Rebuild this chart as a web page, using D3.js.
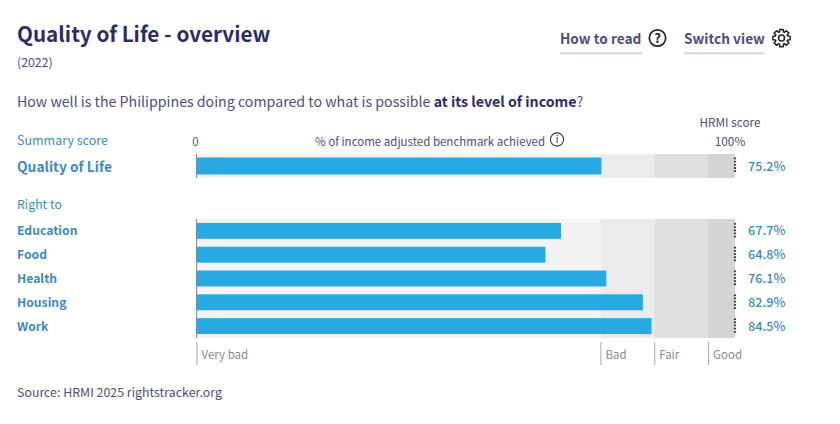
<!DOCTYPE html>
<html>
<head>
<meta charset="utf-8">
<script src="https://cdn.jsdelivr.net/npm/d3@7"></script>
<style>
	html, body { margin: 0; padding: 0; background: #fff; }
	svg { display: block; }
	text { font-family: "Noto Sans CJK SC", "Noto Sans", sans-serif; }
	.zone-axis .domain { display: none; }
	.zone-axis line { stroke: #b5b5b5; stroke-width: 1.2; }
	.zone-axis text { fill: #8a8a8a; font-size: 11.5px; text-anchor: start; }
</style>
</head>
<body>
<div id="chart"></div>
<script>
var rights = ['Education', 'Food', 'Health', 'Housing', 'Work'];
var rightScores = [67.7, 64.8, 76.1, 82.9, 84.5];
var summaryLabel = 'Quality of Life';
var summaryScore = 75.2;
var zoneNames = ['Very bad', 'Bad', 'Fair', 'Good'];
var zoneStarts = [0, 75, 85, 95];
var zoneEnds = [75, 85, 95, 100];
var zoneColors = ['#f3f3f3', '#ebebeb', '#dfdfdf', '#d4d4d4'];

var navy = '#2f2b64', slate = '#504e76', blue = '#3c8ac2', barBlue = '#29a9e1';

var svg = d3.select('#chart').append('svg')
	.attr('width', 840)
	.attr('height', 424);

var x = d3.scaleLinear().domain([0, 100]).range([196.5, 735]);
var y = d3.scaleBand().domain(rights).range([219, 338]).paddingInner(0.33).paddingOuter(0.165);
var ySummary = d3.scaleBand().domain([summaryLabel]).range([154, 178]).padding(0.17);

function addText(s, px, py, size, color, weight, anchor) {
	return svg.append('text')
		.attr('x', px)
		.attr('y', py)
		.attr('font-size', size)
		.attr('font-weight', weight || 400)
		.attr('text-anchor', anchor || 'start')
		.attr('fill', color)
		.text(s);
}

// Circle icon with a glyph in it
function addRoundIcon(cx, cy, r, glyph, size, color, weight) {
	svg.append('circle')
		.attr('cx', cx).attr('cy', cy).attr('r', r)
		.attr('fill', 'none').attr('stroke', color).attr('stroke-width', r > 7 ? 1.7 : 1.1);
	addText(glyph, cx, cy + size * 0.36, size, color, weight, 'middle');
}

// Headings
addText('Quality of Life - overview', 17, 42, 20.7, navy, 600);
addText('(2022)', 17, 67, 12.3, slate);
var question = addText('How well is the Philippines doing compared to what is possible ', 17, 107, 14.2, slate);
question.append('tspan').attr('font-weight', 700).attr('fill', navy).text('at its level of income');
question.append('tspan').text('?');

// Top right links
addText('How to read', 560, 44, 13.7, slate, 600);
svg.append('rect').attr('x', 560).attr('y', 52).attr('width', 82).attr('height', 2.5).attr('fill', '#dcdcea');
addRoundIcon(657.5, 38, 8.2, '?', 13, '#222', 600);
addText('Switch view', 684, 44, 13.7, slate, 600);
svg.append('rect').attr('x', 684).attr('y', 52).attr('width', 81).attr('height', 2.5).attr('fill', '#dcdcea');

// Gear icon
var gearAngles = d3.range(0, 8).map(function(i) { return i * Math.PI / 4; });
var gearPoints = [];
gearAngles.forEach(function(a) {
	[[-0.3, 6.4], [-0.2, 8.8], [0.2, 8.8], [0.3, 6.4]].forEach(function(p) {
		gearPoints.push([a + p[0], p[1]]);
	});
});
var gear = svg.append('g').attr('transform', 'translate(781.5,38)');
gear.append('path')
	.attr('d', d3.lineRadial().curve(d3.curveLinearClosed)(gearPoints))
	.attr('fill', 'none').attr('stroke', '#222').attr('stroke-width', 1.5).attr('stroke-linejoin', 'round');
gear.append('circle').attr('r', 3).attr('fill', 'none').attr('stroke', '#222').attr('stroke-width', 1.5);

// Header row
addText('Summary score', 17, 145, 12.5, blue);
addText('0', 195.5, 146, 11.5, slate, 400, 'middle');
addText('% of income adjusted benchmark achieved', 315, 146, 11.5, slate);
addRoundIcon(557, 139.5, 6.6, 'i', 10, '#333', 400);
addText('HRMI score', 730, 127, 11.8, slate, 400, 'middle');
addText('100%', 730, 146, 11.8, slate, 400, 'middle');
addText('Right to', 17, 209, 12.3, blue);

// Zone backgrounds, one set behind the summary row and one behind the rights
[[154, 178], [219, 338]].forEach(function(extent) {
	svg.append('g').selectAll('rect')
		.data(zoneStarts)
		.enter().append('rect')
		.attr('x', function(d) { return x(d); })
		.attr('y', extent[0])
		.attr('width', function(d, i) { return x(zoneEnds[i]) - x(d); })
		.attr('height', extent[1] - extent[0])
		.attr('fill', function(d, i) { return zoneColors[i]; });

	// Zero line
	svg.append('line')
		.attr('x1', x(0)).attr('x2', x(0))
		.attr('y1', extent[0]).attr('y2', extent[1])
		.attr('stroke', '#8c8c8c').attr('stroke-width', 1.1);
});

// Bars
svg.append('rect')
	.attr('x', x(0))
	.attr('y', ySummary(summaryLabel))
	.attr('width', x(summaryScore) - x(0))
	.attr('height', ySummary.bandwidth())
	.attr('fill', barBlue);

svg.append('g').selectAll('rect')
	.data(rights)
	.enter().append('rect')
	.attr('x', x(0))
	.attr('y', function(d) { return y(d); })
	.attr('width', function(d, i) { return x(rightScores[i]) - x(0); })
	.attr('height', y.bandwidth())
	.attr('fill', barBlue);

// Labels and values
addText(summaryLabel, 17, 172, 13.8, blue, 600);
addText(summaryScore.toFixed(1) + '%', 748, 171, 12.7, blue, 500);

svg.append('g').selectAll('text')
	.data(rights)
	.enter().append('text')
	.attr('x', 17)
	.attr('y', function(d) { return y(d) + y.bandwidth() / 2 + 4.5; })
	.attr('font-size', 12.2)
	.attr('font-weight', 600)
	.attr('fill', blue)
	.text(function(d) { return d; });

svg.append('g').selectAll('text')
	.data(rights)
	.enter().append('text')
	.attr('x', 748)
	.attr('y', function(d) { return y(d) + y.bandwidth() / 2 + 4.5; })
	.attr('font-size', 12.7)
	.attr('font-weight', 500)
	.attr('fill', blue)
	.text(function(d, i) { return rightScores[i].toFixed(1) + '%'; });

// Dotted target marks at 100%
var dotRows = [ySummary(summaryLabel)].concat(rights.map(function(d) { return y(d); }));
svg.append('g').selectAll('line')
	.data(dotRows)
	.enter().append('line')
	.attr('x1', x(100)).attr('x2', x(100))
	.attr('y1', function(d) { return d; })
	.attr('y2', function(d) { return d + y.bandwidth(); })
	.attr('stroke', '#444')
	.attr('stroke-width', 2.2)
	.attr('stroke-dasharray', '1.8 1.4');

// Zone ticks under the chart
var zoneAxis = d3.axisBottom(x)
	.tickValues(zoneStarts)
	.tickSize(23)
	.tickFormat(function(d, i) { return zoneNames[i]; });

svg.append('g')
	.attr('class', 'zone-axis')
	.attr('transform', 'translate(0,342)')
	.call(zoneAxis)
	.selectAll('text')
	.attr('x', 4.5)
	.attr('y', 8.5)
	.attr('dy', '0.71em');

addText('Source: HRMI 2025 rightstracker.org', 17, 397, 12.4, slate);
</script>
</body>
</html>
